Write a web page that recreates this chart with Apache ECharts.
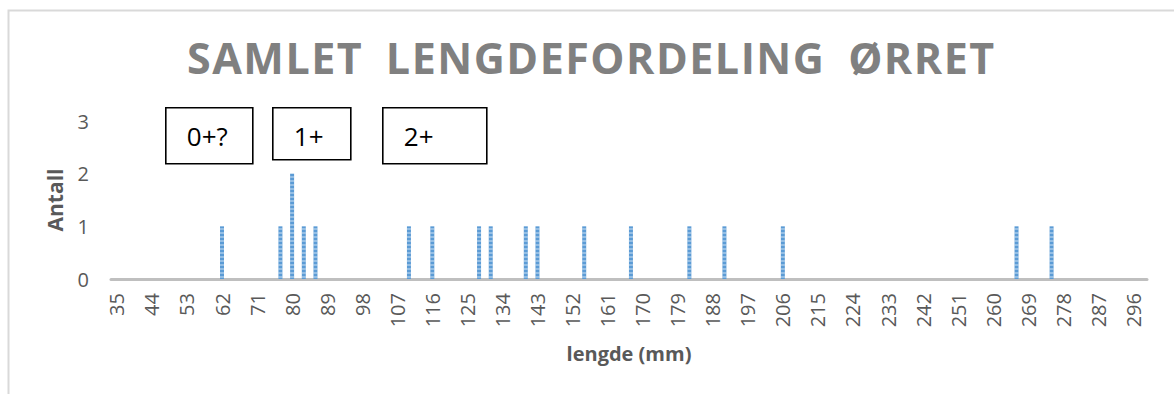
<!DOCTYPE html>
<html>
<head>
<meta charset="utf-8">
<title>Samlet lengdefordeling ørret</title>
<script src="https://cdn.jsdelivr.net/npm/echarts@6/dist/echarts.min.js"></script>
<style>
  html, body { margin: 0; padding: 0; background: #ffffff; }
  #chart { width: 1174px; height: 394px; }
</style>
</head>
<body>
<div id="chart"></div>
<script>
// Length classes (mm) on the category axis
const minLength = 34;
const maxLength = 299;

// Measured fish: length (mm) and number of fish at that length
const lengths = [62, 77, 80, 83, 86, 110, 116, 128, 131, 140, 143, 155, 167, 182, 191, 206, 266, 275];
const counts  = [1,  1,  2,  1,  1,  1,   1,   1,   1,   1,   1,   1,   1,   1,   1,   1,   1,   1];

// Lengths that get a label on the x axis
const tickLabels = [35, 44, 53, 62, 71, 80, 89, 98, 107, 116, 125, 134, 143, 152, 161, 170,
                    179, 188, 197, 206, 215, 224, 233, 242, 251, 260, 269, 278, 287, 296];

// Age-group notes above the bars
const ageGroups = ['0+?', '1+', '2+'];

const titleText = 'SAMLET LENGDEFORDELING ØRRET';

const categories = [];
for (let v = minLength; v <= maxLength; v++) categories.push(String(v));

const barData = lengths.map((len, i) => [String(len), counts[i]]);

const FONT = '"Open Sans", "Liberation Sans", sans-serif';
const GREY = '#595959';

function noteBox(x, y, w, h, label) {
  return {
    type: 'group',
    left: x, top: y,
    children: [
      { type: 'rect', shape: { x: 0, y: 0, width: w, height: h },
        style: { fill: '#ffffff', stroke: '#000000', lineWidth: 1.6 } },
      { type: 'text', x: 21, y: 28,
        style: { text: label, font: '26px ' + FONT, fill: '#000000',
                 textAlign: 'left', textVerticalAlign: 'middle' } }
    ]
  };
}

const chart = echarts.init(document.getElementById('chart'), null, { renderer: 'svg' });

chart.setOption({
  animation: false,
  backgroundColor: '#ffffff',
  title: {
    text: titleText,
    left: 187,
    top: 36,
    padding: 0,
    textStyle: { fontFamily: FONT, fontSize: 43, fontWeight: 'bold', color: '#808080' }
  },
  grid: { left: 111, right: 27, top: 121, bottom: 115, containLabel: false },
  xAxis: {
    type: 'category',
    data: categories,
    boundaryGap: true,
    name: 'lengde (mm)',
    nameLocation: 'middle',
    nameGap: 64,
    nameTextStyle: { fontFamily: FONT, fontSize: 20, fontWeight: 'bold', color: GREY },
    axisLine: { lineStyle: { color: '#BFBFBF', width: 3 } },
    axisTick: { show: false },
    axisLabel: {
      rotate: 90,
      margin: 14,
      interval: (index, value) => tickLabels.includes(Number(value)),
      fontFamily: FONT, fontSize: 20, color: GREY
    },
    splitLine: { show: false }
  },
  yAxis: {
    type: 'value',
    min: 0, max: 3, interval: 1,
    name: 'Antall',
    nameLocation: 'middle',
    nameGap: 46,
    nameTextStyle: { fontFamily: FONT, fontSize: 21, fontWeight: 'bold', color: GREY },
    axisLine: { show: false },
    axisTick: { show: false },
    splitLine: { show: false },
    axisLabel: { margin: 22, fontFamily: FONT, fontSize: 20, color: GREY }
  },
  series: [{
    type: 'bar',
    data: barData,
    barWidth: 4,
    itemStyle: {
      color: '#5B9BD5',
      decal: {
        symbol: 'rect',
        symbolSize: 1,
        color: 'rgba(255,255,255,0.35)',
        dashArrayX: [1, 0],
        dashArrayY: [1.5, 1.5],
        rotation: 0
      }
    }
  }],
  graphic: [
    { type: 'rect', left: 6, top: 8, silent: true,
      shape: { width: 1300, height: 500 },
      style: { fill: 'none', stroke: '#D9D9D9', lineWidth: 2 } },
    noteBox(165, 107, 87, 56, ageGroups[0]),
    noteBox(272, 107, 78, 52, ageGroups[1]),
    noteBox(382, 107, 104, 56, ageGroups[2])
  ]
});

// Spaced-out capitals in the heading
function spaceTitle() {
  document.querySelectorAll('#chart text').forEach(t => {
    if (t.textContent === titleText) {
      t.setAttribute('letter-spacing', '1.5px');
      t.setAttribute('word-spacing', '10px');
    }
  });
}
spaceTitle();
chart.on('finished', spaceTitle);
</script>
</body>
</html>
